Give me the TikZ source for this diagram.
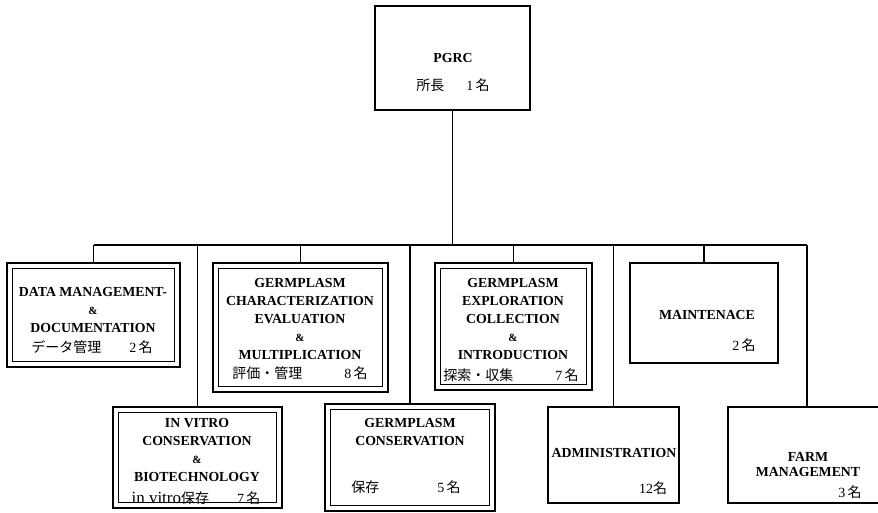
\documentclass[tikz,border=0pt]{standalone}
\usepackage{fontspec}
\setmainfont{Liberation Serif}
\newfontfamily\jpfont{Noto Sans CJK JP}
\newcommand\J[1]{{\mdseries\jpfont #1}}
\newcommand\amp{{\fontsize{11}{18}\selectfont\&}}
\begin{document}
\begin{tikzpicture}[x=1pt,y=-1pt,
  box/.style={draw, line width=1.8pt, inner sep=0pt, outer sep=0pt},
  txt/.style={align=center, inner sep=0pt, font=\fontsize{13.8}{18}\selectfont\bfseries},
  jtxt/.style={inner sep=0pt, font=\fontsize{14}{18}\selectfont},
  link/.style={line width=1.2pt},
  inbox/.style={line width=0.9pt}]
\useasboundingbox (0,0) rectangle (878,512);
\fill[white] (0,0) rectangle (878,512);

% boxes
\node[box, minimum width=155pt, minimum height=104pt] (pgrc) at (452.5,58) {};
\node[box, minimum width=173pt, minimum height=104pt] (data) at (93.5,315) {};
\node[box, minimum width=175pt, minimum height=129pt] (charb) at (300.5,327.5) {};
\node[box, minimum width=157pt, minimum height=127pt] (expl) at (513.5,326.5) {};
\node[box, minimum width=148pt, minimum height=100pt] (maint) at (704,313) {};
\node[box, minimum width=169pt, minimum height=101pt] (invitro) at (197.5,457.5) {};
\node[box, minimum width=170pt, minimum height=107pt] (cons) at (410,457.5) {};
\node[box, minimum width=131pt, minimum height=96pt] (admin) at (613.5,455) {};
\node[box, minimum width=158pt, minimum height=96pt] (farm) at (807,455) {};

% inner frames of the double boxes
\foreach \n in {data,charb,expl,invitro,cons}
  \draw[inbox] ([shift={(5.5,5.5)}]\n.north west) rectangle ([shift={(-5.5,-5.5)}]\n.south east);

% connectors
\coordinate (bus) at (456,245);
\draw[link] (pgrc.south) -- (pgrc.south |- bus);
\draw[link] (data.north |- bus) -- (farm.north |- bus);
\foreach \n in {data,charb,expl,maint,invitro,cons,admin,farm}
  \draw[link] (\n.north) -- (\n.north |- bus);

% texts
\node[txt] (pgrcT) at (453,58) {PGRC};
\node[jtxt] (pgrcJ) at (453,85) {\J{所長}\hspace{22pt}1\,\J{名}};

\node[txt] (dataT) at (93,310) {DATA MANAGEMENT-\\\amp\\DOCUMENTATION};
\node[jtxt] (dataJ) at (92,347) {\J{データ管理}\hspace{28pt}2\,\J{名}};

\node[txt] (charT) at (300,318.5) {GERMPLASM\\CHARACTERIZATION\\EVALUATION\\\amp\\MULTIPLICATION};
\node[jtxt] (charJ) at (300,373) {\J{評価・管理}\hspace{42pt}8\,\J{名}};

\node[txt] (explT) at (513,318.5) {GERMPLASM\\EXPLORATION\\COLLECTION\\\amp\\INTRODUCTION};
\node[jtxt] (explJ) at (511,375) {\J{探索・収集}\hspace{42pt}7\,\J{名}};

\node[txt] (maintT) at (707,315) {MAINTENACE};
\node[jtxt] (maintJ) at (744,345) {2\,\J{名}};

\node[txt] (invT) at (197,450) {IN VITRO\\CONSERVATION\\\amp\\BIOTECHNOLOGY};
\node[jtxt] (invJ) at (196,498) {{\fontsize{17}{18}\selectfont in vitro}\J{保存}\hspace{28pt}7\,\J{名}};

\node[txt] (consT) at (410,432.5) {GERMPLASM\\CONSERVATION};
\node[jtxt] (consJ) at (406,487) {\J{保存}\hspace{58pt}5\,\J{名}};

\node[txt] (adminT) at (614,453) {ADMINISTRATION};
\node[jtxt] (adminJ) at (653,488) {12\J{名}};

\node[txt, font=\fontsize{13.8}{15}\selectfont\bfseries] (farmT) at (808,464.5) {FARM\\MANAGEMENT};
\node[jtxt] (farmJ) at (850,492) {3\,\J{名}};
\end{tikzpicture}
\end{document}
